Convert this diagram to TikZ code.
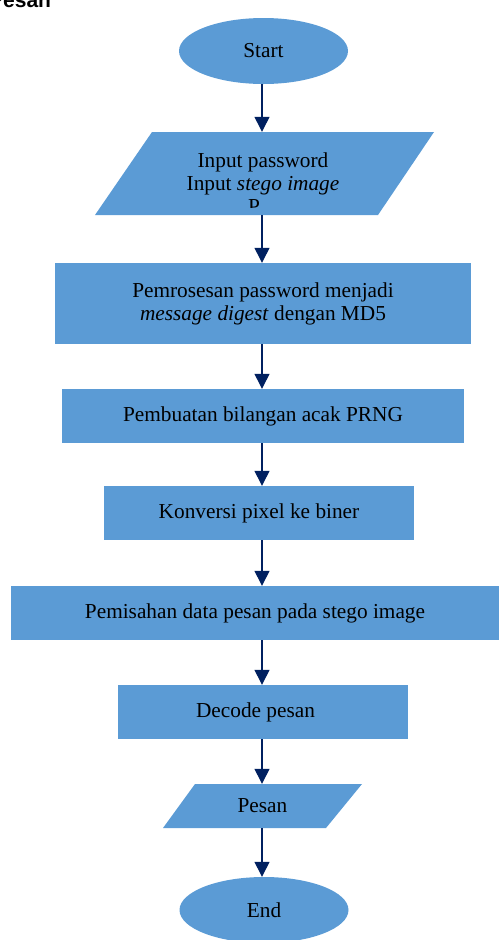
\documentclass[tikz,border=0pt]{standalone}
\usepackage{fontspec}
\setmainfont{Liberation Serif}
\newfontfamily\headfont{Liberation Sans}
\usetikzlibrary{arrows.meta,shapes.geometric}
\definecolor{flowblue}{HTML}{5B9BD5}
\definecolor{arrowblue}{HTML}{002060}

\begin{document}
\begin{tikzpicture}[x=1pt, y=-1pt,
  every node/.style={font=\fontsize{21.3}{23}\selectfont, align=center, inner sep=0pt},
  term/.style={ellipse, fill=flowblue, minimum width=169pt, minimum height=66pt},
  proc/.style={rectangle, fill=flowblue, minimum height=54pt},
  arr/.style={draw=arrowblue, line width=1.3pt, -{Triangle[length=15pt,width=15pt]}}]
  \clip (0,0) rectangle (499,940);
  % heading, cut off at the top edge
  \node[font=\headfont\bfseries\fontsize{21}{21}\selectfont, anchor=base west] (head) at (-11,7) {Pesan};
  \coordinate (axis) at (262,0);
  % Start
  \node[term] (start) at (263.5,51) {Start};
  % Input (parallelogram)
  \fill[flowblue] (152,132) -- (434,132) -- (378,215) -- (95,215) -- cycle;
  \node[minimum height=83pt, minimum width=200pt] (input) at (263,173.5) {Input password\\Input \textit{stego image}};
  \begin{scope}
    \clip (200,190) rectangle (330,207);
    \node[anchor=base west] (inputcut) at (248,213) {P};
  \end{scope}
  % Proses
  \node[proc, minimum width=416pt, minimum height=81pt] (md5) at (263,303.5) {Pemrosesan password menjadi\\\textit{message digest} dengan MD5};
  \node[proc, minimum width=402pt] (prng) at (263,416) {Pembuatan bilangan acak PRNG};
  \node[proc, minimum width=310pt] (biner) at (259,513) {Konversi pixel ke biner};
  \node[proc, minimum width=488pt] (pisah) at (255,613) {Pemisahan data pesan pada stego image};
  \node[proc, minimum width=290pt] (decode) at (263,712) {Decode pesan\hspace*{15pt}};
  % Output (parallelogram)
  \fill[flowblue] (195,784) -- (362,784) -- (326,828) -- (163,828) -- cycle;
  \node[minimum height=44pt, minimum width=100pt] (pesan) at (262.5,806) {Pesan};
  % End
  \node[term] (stop) at (264,910) {End};
  % Arrows
  \foreach \a/\b in {start/input, input/md5, md5/prng, prng/biner, biner/pisah, pisah/decode, decode/pesan, pesan/stop}
    \draw[arr] (\a.south -| axis) -- (\b.north -| axis);
\end{tikzpicture}
\end{document}
